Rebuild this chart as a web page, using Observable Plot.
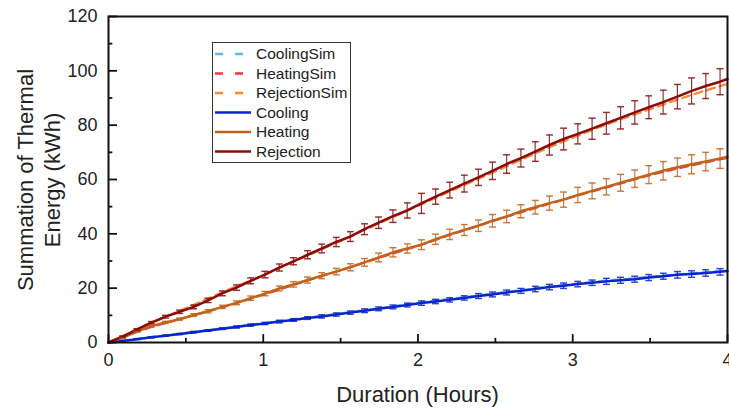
<!DOCTYPE html>
<html><head><meta charset="utf-8">
<script src="https://cdn.jsdelivr.net/npm/d3@7"></script>
<script src="https://cdn.jsdelivr.net/npm/@observablehq/plot@0.6"></script>
<style>
body{margin:0;background:#fff;}
#chart{width:729px;height:412px;position:relative;}
</style>
</head><body><div id="chart"></div>
<script>
// Measured series (hours) — error bars every ~5.5 min
const hours = [0, 0.092, 0.184, 0.276, 0.368, 0.46, 0.551, 0.643, 0.735, 0.827, 0.919, 1.011, 1.103, 1.195, 1.287, 1.379, 1.471, 1.562, 1.654, 1.746, 1.838, 1.93, 2.022, 2.114, 2.206, 2.298, 2.39, 2.481, 2.573, 2.665, 2.757, 2.849, 2.941, 3.033, 3.125, 3.217, 3.309, 3.401, 3.492, 3.584, 3.676, 3.768, 3.86, 3.952, 4.0];
const cooling = [0, 0.6, 1.2, 1.9, 2.5, 3.1, 3.8, 4.4, 5.1, 5.7, 6.4, 7.0, 7.7, 8.3, 9.0, 9.6, 10.3, 11.0, 11.7, 12.4, 13.1, 13.8, 14.5, 15.1, 15.7, 16.4, 17.1, 17.7, 18.4, 19.0, 19.7, 20.4, 20.9, 21.5, 22.0, 22.5, 22.9, 23.3, 23.9, 24.4, 24.9, 25.2, 25.6, 26.0, 26.3];
const heating = [0, 1.7, 4.1, 6.0, 7.4, 8.6, 10.1, 11.5, 13.1, 14.6, 16.3, 18.0, 19.9, 21.4, 23.0, 24.6, 26.1, 27.7, 29.5, 31.3, 33.2, 34.6, 36.0, 38.0, 39.8, 41.4, 43.0, 44.8, 46.4, 48.3, 49.8, 51.3, 52.6, 54.3, 55.8, 57.3, 58.8, 60.3, 61.8, 63.2, 64.5, 65.6, 66.6, 67.7, 68.4];
const rejection = [0, 2.2, 4.8, 7.3, 9.5, 11.3, 13.1, 15.5, 18.1, 20.2, 22.7, 25.0, 27.6, 29.9, 32.3, 34.6, 37.0, 39.0, 41.7, 44.1, 46.5, 48.6, 51.2, 53.7, 56.1, 58.5, 60.8, 63.2, 65.7, 67.9, 70.3, 72.7, 74.9, 76.8, 78.7, 80.7, 82.7, 84.7, 86.6, 88.5, 90.5, 92.6, 94.4, 96.0, 97.0];
const coolingErr = [0, 0.1, 0.1, 0.2, 0.2, 0.2, 0.3, 0.3, 0.3, 0.4, 0.4, 0.4, 0.5, 0.5, 0.5, 0.6, 0.6, 0.6, 0.7, 0.7, 0.7, 0.7, 0.8, 0.8, 0.8, 0.8, 0.9, 0.9, 0.9, 0.9, 1.0, 1.0, 1.0, 1.0, 1.0, 1.1, 1.1, 1.1, 1.1, 1.1, 1.2, 1.2, 1.2, 1.2, 0];
const heatingErr = [0, 0.2, 0.3, 0.3, 0.4, 0.4, 0.5, 0.6, 0.6, 0.7, 0.8, 0.8, 0.9, 1.0, 1.1, 1.1, 1.2, 1.3, 1.4, 1.6, 1.7, 1.7, 1.8, 1.9, 1.9, 2.0, 2.1, 2.3, 2.3, 2.4, 2.5, 2.6, 2.8, 2.8, 2.9, 3.0, 3.1, 3.2, 3.3, 3.4, 3.4, 3.5, 3.4, 3.6, 0];
const rejectionErr = [0, 0.2, 0.3, 0.4, 0.5, 0.6, 0.7, 0.8, 0.9, 1.0, 1.1, 1.2, 1.3, 1.3, 1.5, 1.6, 1.7, 1.8, 2.0, 2.1, 2.3, 2.8, 3.7, 2.8, 2.9, 3.1, 3.0, 3.2, 3.4, 3.3, 3.6, 3.7, 4.0, 3.7, 3.9, 4.0, 4.1, 4.3, 4.2, 4.4, 4.5, 4.8, 4.6, 4.8, 0];

// Simulated series
const simHours = [0, 0.25, 0.5, 0.75, 1, 1.25, 1.5, 1.75, 2, 2.25, 2.5, 2.75, 3, 3.25, 3.5, 3.75, 4];
const coolingSim = [0, 1.8, 3.5, 5.3, 7.1, 8.9, 10.7, 12.6, 14.6, 16.3, 18.1, 19.9, 21.5, 22.9, 24.2, 25.4, 26.5];
const heatingSim = [0, 5.2, 9.2, 13.2, 17.6, 22.2, 26.6, 31.2, 35.6, 40.4, 45.0, 49.4, 53.6, 57.6, 61.6, 65.0, 68.0];
const rejectionSim = [0, 6.4, 12.6, 18.8, 24.8, 31.1, 37.4, 43.9, 50.3, 56.7, 63.0, 69.4, 75.4, 80.9, 85.9, 90.8, 95.2];

const xTicks = [0, 1, 2, 3, 4];
const xMinor = [0.5, 1.5, 2.5, 3.5];
const yTicks = [0, 20, 40, 60, 80, 100, 120];
const yMinor = [10, 30, 50, 70, 90, 110];

const seriesNames = ["CoolingSim", "HeatingSim", "RejectionSim", "Cooling", "Heating", "Rejection"];
const seriesColors = ["#55bbf5", "#f23a3a", "#f58a3a", "#0b24c8", "#c0641c", "#8b0a0a"];

const measured = [["Cooling", cooling, coolingErr], ["Heating", heating, heatingErr], ["Rejection", rejection, rejectionErr]]
  .flatMap(([name, vals, errs]) => hours.map((h, i) => ({series: name, h, v: vals[i], e: errs[i]})));
const sims = [["CoolingSim", coolingSim], ["HeatingSim", heatingSim], ["RejectionSim", rejectionSim]]
  .flatMap(([name, vals]) => simHours.map((h, i) => ({series: name, h, v: vals[i]})));
const bars = measured.filter(d => d.e > 0);

const plot = Plot.plot({
  width: 729, height: 412,
  marginLeft: 108, marginRight: 2, marginTop: 16, marginBottom: 70,
  style: {fontFamily: "'Liberation Sans', Arial, sans-serif", fontSize: "18px", color: "#222", background: "#fff"},
  x: {domain: [0, 4], ticks: xTicks, tickSize: 0, tickPadding: 11, label: null, tickFormat: d => String(d)},
  y: {domain: [0, 120], ticks: yTicks, tickSize: 0, tickPadding: 11, label: null},
  color: {domain: seriesNames, range: seriesColors},
  marks: [
    Plot.line(sims, {x: "h", y: "v", z: "series", stroke: "series", strokeWidth: 2.3, strokeDasharray: "8,5", curve: "monotone-x"}),
    Plot.line(measured, {x: "h", y: "v", z: "series", stroke: "series", strokeWidth: 2.5}),
    Plot.link(bars, {x1: "h", x2: "h", y1: d => d.v - d.e, y2: d => d.v + d.e, stroke: "series", strokeWidth: 1.2, strokeOpacity: 0.85, markerStart: "tick", markerEnd: "tick"}),
    Plot.ruleX(xTicks, {y1: 0, y2: 2.9, stroke: "#111", strokeWidth: 1.8}),
    Plot.ruleX(xMinor, {y1: 0, y2: 1.5, stroke: "#111", strokeWidth: 1.8}),
    Plot.ruleY(yTicks, {x1: 0, x2: 0.058, stroke: "#111", strokeWidth: 1.8}),
    Plot.ruleY(yMinor, {x1: 0, x2: 0.028, stroke: "#111", strokeWidth: 1.8}),
    Plot.frame({stroke: "#111", strokeWidth: 2})
  ]
});

const svg = d3.select(plot);
// axis titles
svg.append("text").attr("x", 417.5).attr("y", 402).attr("text-anchor", "middle")
  .style("font-size", "22px").attr("fill", "#222").text("Duration (Hours)");
const yt = svg.append("text").attr("transform", "translate(0,180) rotate(-90)").attr("text-anchor", "middle")
  .style("font-size", "22px").attr("fill", "#222");
yt.append("tspan").attr("x", 0).attr("y", 33).text("Summation of Thermal");
yt.append("tspan").attr("x", 0).attr("y", 60).text("Energy (kWh)");

// legend
const lg = svg.append("g").attr("text-anchor", "start");
lg.append("rect").attr("x", 212.5).attr("y", 42.5).attr("width", 138).attr("height", 120)
  .attr("fill", "#fff").attr("stroke", "#333").attr("stroke-width", 1);
seriesNames.forEach((name, i) => {
  const y = 54 + i * 19.5;
  const dashed = i < 3;
  lg.append("line").attr("x1", 215).attr("x2", 251).attr("y1", y).attr("y2", y)
    .attr("stroke", seriesColors[i]).attr("stroke-width", dashed ? 2.3 : 2.5)
    .attr("stroke-dasharray", dashed ? "8,12" : null);
  lg.append("text").attr("x", 256).attr("y", y).attr("dy", "0.35em").attr("text-anchor", "start")
    .style("font-size", "15.5px").attr("fill", "#222").text(name);
});

document.getElementById("chart").appendChild(plot);
</script>
</body></html>
